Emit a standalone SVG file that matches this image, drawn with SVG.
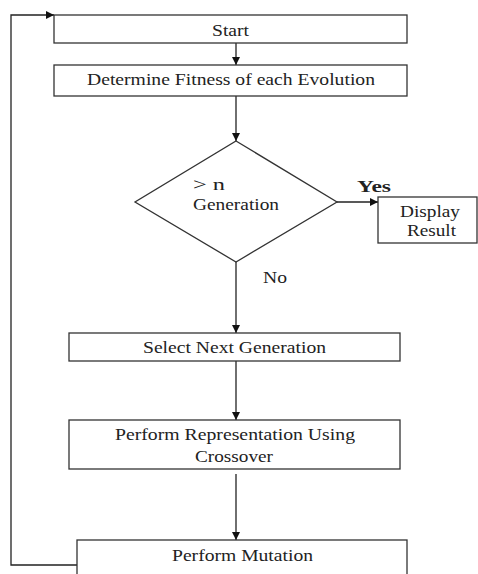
<svg xmlns="http://www.w3.org/2000/svg" width="478" height="574" viewBox="0 0 478 574">
<style>
.box{fill:#fff;stroke:#333;stroke-width:1.3}
.ln{fill:none;stroke:#222;stroke-width:1.3}
.t{font-family:"Liberation Serif","Times New Roman",serif;font-size:17px;fill:#222}
.c{text-anchor:middle}
</style>
<defs>
<marker id="ah" viewBox="0 0 10 10" refX="10" refY="5" markerWidth="8" markerHeight="8" markerUnits="userSpaceOnUse" orient="auto">
<path d="M0,0 L10,5 L0,10 Z" fill="#111"/>
</marker>
</defs>
<rect width="478" height="574" fill="#fff"/>
<g id="connectors">
<line class="ln" x1="236" y1="43" x2="236" y2="65" marker-end="url(#ah)"/>
<line class="ln" x1="236" y1="96" x2="236" y2="141" marker-end="url(#ah)"/>
<line class="ln" x1="337" y1="202" x2="378" y2="202" marker-end="url(#ah)"/>
<line class="ln" x1="236" y1="262" x2="236" y2="333" marker-end="url(#ah)"/>
<line class="ln" x1="236" y1="361" x2="236" y2="420" marker-end="url(#ah)"/>
<line class="ln" x1="236" y1="474" x2="236" y2="540" marker-end="url(#ah)"/>
<polyline class="ln" points="77,565 11,565 11,15 54,15" marker-end="url(#ah)"/>
<text class="t" x="357" y="192" font-weight="bold" textLength="34" lengthAdjust="spacingAndGlyphs">Yes</text>
<text class="t" x="263" y="283" textLength="24" lengthAdjust="spacingAndGlyphs">No</text>
</g>
<g id="start">
<rect class="box" x="54" y="15" width="353" height="28"/>
<text class="t c" x="230.5" y="36" textLength="37" lengthAdjust="spacingAndGlyphs">Start</text>
</g>
<g id="fitness">
<rect class="box" x="54" y="65" width="353" height="31"/>
<text class="t c" x="231" y="85" textLength="288" lengthAdjust="spacingAndGlyphs">Determine Fitness of each Evolution</text>
</g>
<g id="decision">
<polygon class="box" points="236,141 337,202 236,262 135,202"/>
<text class="t" x="193" y="190" textLength="32" lengthAdjust="spacingAndGlyphs">&gt; n</text>
<text class="t" x="193" y="210" textLength="86" lengthAdjust="spacingAndGlyphs">Generation</text>
</g>
<g id="display">
<rect class="box" x="378" y="197" width="99" height="46"/>
<text class="t c" x="430" y="217" textLength="60" lengthAdjust="spacingAndGlyphs">Display</text>
<text class="t c" x="431.5" y="236" textLength="49" lengthAdjust="spacingAndGlyphs">Result</text>
</g>
<g id="select">
<rect class="box" x="69" y="333" width="331" height="28"/>
<text class="t c" x="234.5" y="353" textLength="183" lengthAdjust="spacingAndGlyphs">Select Next Generation</text>
</g>
<g id="crossover">
<rect class="box" x="69" y="420" width="331" height="49"/>
<text class="t c" x="235" y="440" textLength="240" lengthAdjust="spacingAndGlyphs">Perform Representation Using</text>
<text class="t c" x="234" y="462" textLength="78" lengthAdjust="spacingAndGlyphs">Crossover</text>
</g>
<g id="mutation">
<rect class="box" x="77" y="540" width="330" height="40"/>
<text class="t c" x="242.5" y="561" textLength="141" lengthAdjust="spacingAndGlyphs">Perform Mutation</text>
</g>
</svg>
